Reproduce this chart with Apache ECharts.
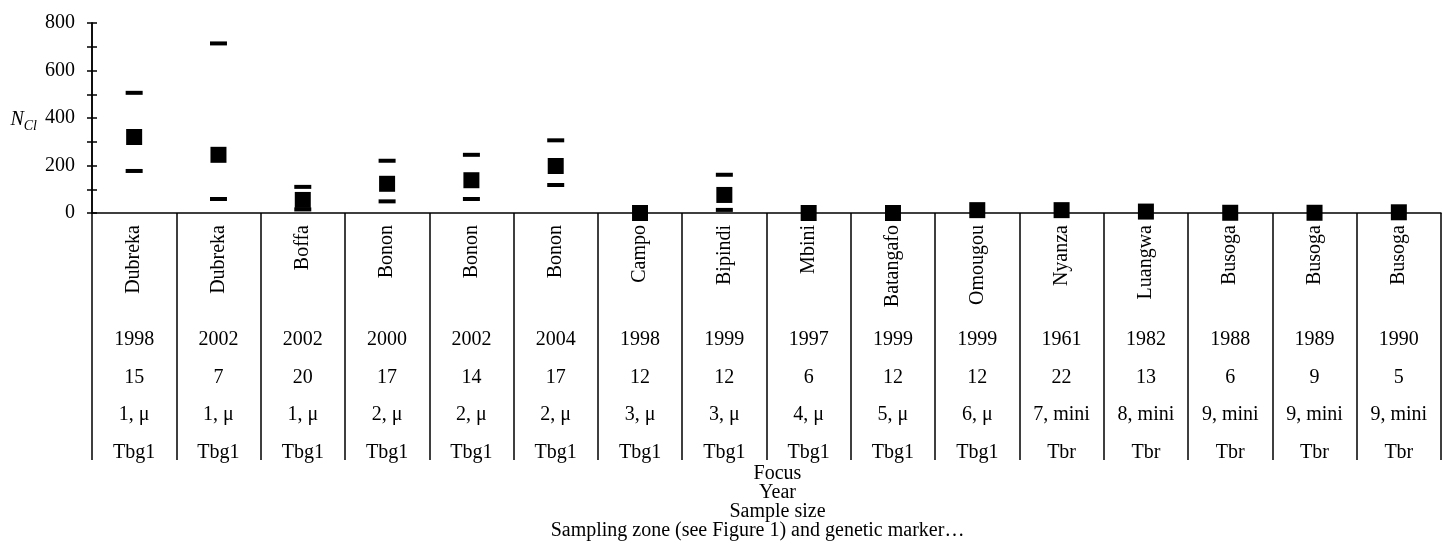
<!DOCTYPE html>
<html><head><meta charset="utf-8">
<script src="https://cdn.jsdelivr.net/npm/echarts@6/dist/echarts.min.js"></script>
<style>html,body{margin:0;padding:0;background:#fff}#c{width:1448px;height:558px}</style>
</head><body><div id="c"></div>
<script>
const focusNames = ['Dubreka','Dubreka','Boffa','Bonon','Bonon','Bonon','Campo','Bipindi','Mbini','Batangafo','Omougou','Nyanza','Luangwa','Busoga','Busoga','Busoga'];
const years = ['1998','2002','2002','2000','2002','2004','1998','1999','1997','1999','1999','1961','1982','1988','1989','1990'];
const sampleSizes = ['15','7','20','17','14','17','12','12','6','12','12','22','13','6','9','5'];
const zones = ['1, μ','1, μ','1, μ','2, μ','2, μ','2, μ','3, μ','3, μ','4, μ','5, μ','6, μ','7, mini','8, mini','9, mini','9, mini','9, mini'];
const geneticMarkers = ['Tbg1','Tbg1','Tbg1','Tbg1','Tbg1','Tbg1','Tbg1','Tbg1','Tbg1','Tbg1','Tbg1','Tbr','Tbr','Tbr','Tbr','Tbr'];
const meanNcl = [320,245,55,123,138,198,0,76,0,0,12,12,6,1,1,3];
const upperNcl = [506,714,110,220,245,306,null,161,null,null,null,null,null,null,null,null];
const lowerNcl = [177,59,15,49,59,118,null,13,null,null,null,null,null,null,null,null];
const yTickLabels = [0,200,400,600,800];
const axisTitleLines = ['Focus','Year','Sample size','Sampling zone (see Figure 1) and genetic marker…'];

const FONT = 'Liberation Serif';
const FS = 20;
const chart = echarts.init(document.getElementById('c'), null, {renderer:'canvas'});

function rowAxis(data, offset){
  return {
    type:'category', data:data, position:'bottom', offset:offset, gridIndex:0,
    axisLine:{show:false}, axisTick:{show:false}, splitLine:{show:false},
    axisLabel:{interval:0, margin:0, verticalAlign:'middle', color:'#000', fontFamily:FONT, fontSize:FS}
  };
}

const option = {
  animation:false,
  backgroundColor:'#fff',
  grid:{left:92, right:7, top:23, bottom:345, containLabel:false},
  xAxis:[
    {
      type:'category', data:focusNames, position:'bottom', gridIndex:0,
      axisLine:{show:true, lineStyle:{color:'#000', width:1.5}},
      axisTick:{show:true, interval:0, length:247, lineStyle:{color:'#000', width:1.5}},
      splitLine:{show:false},
      axisLabel:{interval:0, rotate:90, margin:12, color:'#000', fontFamily:FONT, fontSize:FS},
      name: axisTitleLines.map((t,i)=> i<3 ? '{a|'+t+'}' : '{b|'+t+'}').join('\n'),
      nameLocation:'middle', nameGap:251,
      nameTextStyle:{
        color:'#000', fontFamily:FONT, fontSize:FS, lineHeight:19,
        rich:{
          a:{color:'#000', fontFamily:FONT, fontSize:FS, lineHeight:19, padding:[0,0,0,22]},
          b:{color:'#000', fontFamily:FONT, fontSize:FS, lineHeight:19, padding:[0,18,0,0]}
        }
      }
    },
    rowAxis(years,127),
    rowAxis(sampleSizes,165),
    rowAxis(zones,202),
    rowAxis(geneticMarkers,240)
  ],
  yAxis:[
    {
      type:'value', min:0, max:800, interval:100, position:'left',
      axisLine:{show:true, lineStyle:{color:'#000', width:1.5}},
      axisTick:{show:true, length:5, lineStyle:{color:'#000', width:1.5}},
      splitLine:{show:false},
      axisLabel:{margin:17, color:'#000', fontFamily:FONT, fontSize:FS,
        formatter:v=> yTickLabels.indexOf(v)>=0 ? String(v) : ''},
      name:'{n|N}{s|Cl}', nameLocation:'middle', nameRotate:0, nameGap:55,
      nameTextStyle:{
        align:'right', padding:[4,0,0,0],
        rich:{
          n:{fontFamily:FONT, fontStyle:'italic', fontSize:FS, color:'#000', lineHeight:26, verticalAlign:'middle'},
          s:{fontFamily:FONT, fontStyle:'italic', fontSize:14, color:'#000', lineHeight:14, verticalAlign:'bottom'}
        }
      }
    },
    {
      type:'value', min:0, max:800, interval:100, position:'left',
      axisLine:{show:true, lineStyle:{color:'#000', width:1.5}},
      axisTick:{show:true, inside:true, length:5, lineStyle:{color:'#000', width:1.5}},
      splitLine:{show:false},
      axisLabel:{show:false}
    }
  ],
  series:[
    {type:'scatter', name:'upper', data:upperNcl, symbol:'rect', symbolSize:[17,4], clip:false,
      itemStyle:{color:'#000', opacity:1}, xAxisIndex:0, yAxisIndex:0, z:3},
    {type:'scatter', name:'lower', data:lowerNcl, symbol:'rect', symbolSize:[17,4], clip:false,
      itemStyle:{color:'#000', opacity:1}, xAxisIndex:0, yAxisIndex:0, z:3},
    {type:'scatter', name:'mean', data:meanNcl, symbol:'rect', symbolSize:16, clip:false,
      itemStyle:{color:'#000', opacity:1}, xAxisIndex:0, yAxisIndex:0, z:4}
  ]
};
chart.setOption(option);
</script>
</body></html>
